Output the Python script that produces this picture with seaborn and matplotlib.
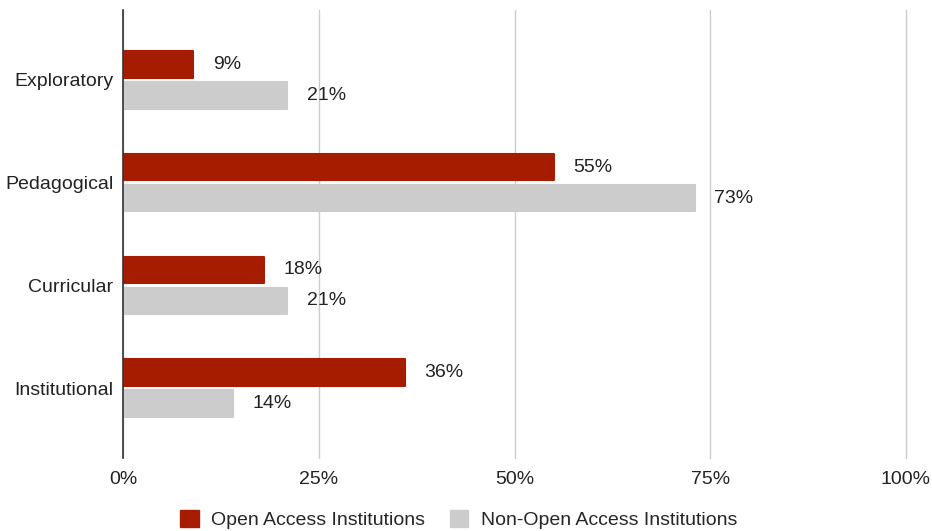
import matplotlib
matplotlib.use("Agg")
import matplotlib.pyplot as plt
import seaborn as sns
import pandas as pd
from matplotlib.ticker import FuncFormatter
from matplotlib.patches import Patch

categories = ["Exploratory", "Pedagogical", "Curricular", "Institutional"]
series_names = ["Open Access Institutions", "Non-Open Access Institutions"]
open_access = [9, 55, 18, 36]
non_open_access = [21, 73, 21, 14]
x_ticks = [0, 25, 50, 75, 100]
colors = ["#A61C00", "#CCCCCC"]

df = pd.DataFrame({
    "category": categories * 2,
    "group": [series_names[0]] * 4 + [series_names[1]] * 4,
    "value": open_access + non_open_access,
})

sns.set_theme(style="white")
plt.rcParams["font.family"] = ["Liberation Sans", "DejaVu Sans"]
FS = 14

fig = plt.figure(figsize=(9.32, 5.31), dpi=100)
ax = fig.add_axes([123 / 932, 1 - 458 / 531, (906 - 123) / 932, 448 / 531])

sns.barplot(data=df, y="category", x="value", hue="group", order=categories,
            hue_order=series_names, palette=colors, orient="h",
            width=0.6, gap=0.14, legend=False, ax=ax, saturation=1)

for bar in ax.patches:
    bar.set_edgecolor(bar.get_facecolor())
    bar.set_linewidth(1.5)
    bar.set_joinstyle("round")

for cont in ax.containers:
    ax.bar_label(cont, labels=[f"{int(v)}%" for v in cont.datavalues],
                 padding=14, fontsize=FS, color="#222222")

ax.set_xlim(0, 100)
ax.set_ylim(3.68, -0.68)
ax.set_xticks(x_ticks)
ax.xaxis.set_major_formatter(FuncFormatter(lambda v, _: f"{int(v)}%"))
ax.grid(axis="x", color="#CCCCCC", linewidth=1)
for gl in ax.get_xgridlines():
    gl.set_clip_on(False)
ax.set_axisbelow(True)
for s in ["top", "right", "bottom"]:
    ax.spines[s].set_visible(False)
ax.spines["left"].set_color("#333333")
ax.spines["left"].set_linewidth(1.2)
ax.spines["left"].set_zorder(3)
ax.tick_params(axis="both", length=0, labelsize=FS, colors="#222222")
ax.tick_params(axis="x", pad=9)
ax.tick_params(axis="y", pad=7)
ax.set_xlabel("")
ax.set_ylabel("")

handles = [Patch(facecolor=c, edgecolor=c) for c in colors]
fig.legend(handles, series_names, loc="lower center", bbox_to_anchor=(0.492, -0.03),
           ncol=2, frameon=False, fontsize=FS, handlelength=0.95, handleheight=0.95,
           columnspacing=1.25, handletextpad=0.65)

fig.savefig("out.png", dpi=100, facecolor="white")
